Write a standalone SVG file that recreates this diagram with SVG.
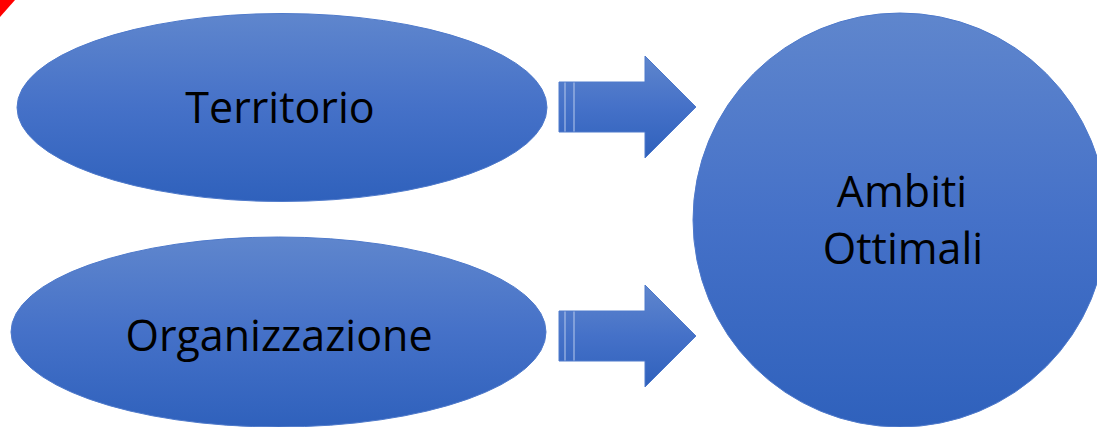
<svg xmlns="http://www.w3.org/2000/svg" width="1097" height="427" viewBox="0 0 1097 427">
  <defs>
    <linearGradient id="blueGrad" x1="0" y1="0" x2="0" y2="1">
      <stop offset="0" stop-color="#5F86CD"/>
      <stop offset="0.5" stop-color="#4571C8"/>
      <stop offset="1" stop-color="#2F61BC"/>
    </linearGradient>
    <style>
      .shape { fill: url(#blueGrad); stroke: #4F7ACB; stroke-width: 1; }
      .label { font-family: "Open Sans", "Noto Sans", "Liberation Sans", sans-serif; font-size: 43px; fill: #000000; text-anchor: middle; }
      .stripe { stroke: #B8CAEC; stroke-width: 1; }
    </style>
  </defs>
  <rect width="1097" height="427" fill="#FFFFFF"/>
  <polygon points="0,0 15,0 0,17" fill="#FF0000"/>

  <g id="node-territorio">
    <ellipse class="shape" cx="282" cy="107.5" rx="265" ry="94"/>
    <text class="label" x="280" y="123">Territorio</text>
  </g>

  <g id="node-organizzazione">
    <ellipse class="shape" cx="278.5" cy="332" rx="267.5" ry="95"/>
    <text class="label" x="279" y="351">Organizzazione</text>
  </g>

  <g id="node-ambiti">
    <circle class="shape" cx="900" cy="220" r="207"/>
    <text class="label" x="902" y="207">Ambiti</text>
    <text class="label" x="903" y="264">Ottimali</text>
  </g>

  <g id="connectors">
    <g id="arrow-1">
      <path class="shape" d="M559,82 H645 V56 L696,107 L645,158 V132 H559 Z"/>
      <line class="stripe" x1="565" y1="82.5" x2="565" y2="131.5"/>
      <line class="stripe" x1="574" y1="82.5" x2="574" y2="131.5"/>
    </g>
    <g id="arrow-2">
      <path class="shape" d="M559,311 H645 V285 L696,336 L645,387 V361 H559 Z"/>
      <line class="stripe" x1="565" y1="311.5" x2="565" y2="360.5"/>
      <line class="stripe" x1="574" y1="311.5" x2="574" y2="360.5"/>
    </g>
  </g>
</svg>
